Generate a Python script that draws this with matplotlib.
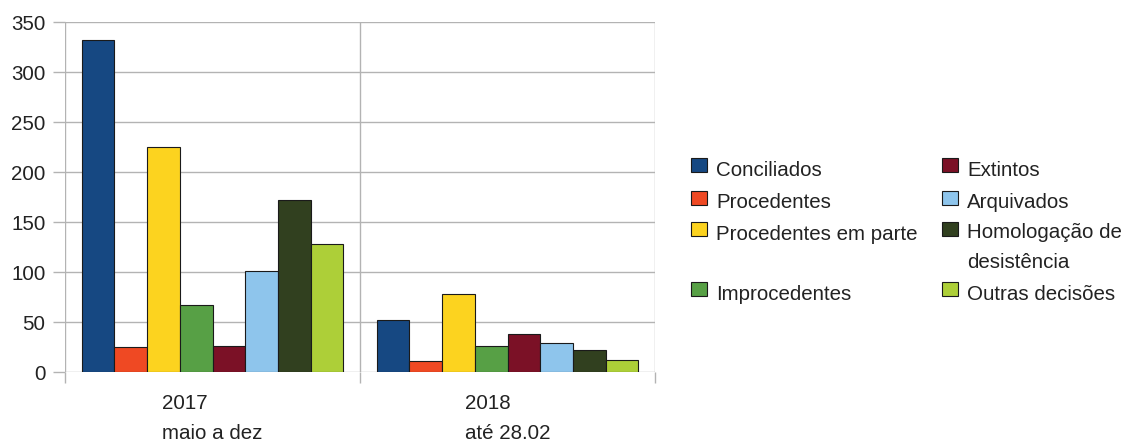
import numpy as np
import matplotlib
matplotlib.use("Agg")
import matplotlib.pyplot as plt
from matplotlib.patches import Rectangle

plt.rcParams['font.family'] = ['Liberation Sans', 'DejaVu Sans']

# data
groups = ["2017\nmaio a dez", "2018\naté 28.02"]
series = ["Conciliados", "Procedentes", "Procedentes em parte", "Improcedentes",
          "Extintos", "Arquivados", "Homologação de\ndesistência", "Outras decisões"]
values_2017 = [332, 25, 225, 67, 26, 101, 172, 128]
values_2018 = [52, 11, 78, 26, 38, 29, 22, 12]
colors = ["#164882", "#ef4923", "#fcd31f", "#57a045",
          "#7b1126", "#8ec5ec", "#31401f", "#adcf38"]

W, H = 1128, 442
fs = 14.8
grid_col = "#b3b3b3"

fig = plt.figure(figsize=(W / 100, H / 100), dpi=100)
ax = fig.add_axes([65 / W, 1 - 372 / H, 590 / W, 350 / H])

x = np.arange(len(groups))
gw = 0.888
bw = gw / len(series)
for i, name in enumerate(series):
    vals = [values_2017[i], values_2018[i]]
    ax.bar(x - gw / 2 + (i + 0.5) * bw, vals, bw, color=colors[i],
           edgecolor="#1a1a1a", linewidth=0.8, zorder=3)

ax.set_xlim(-0.5, len(groups) - 0.5)
ax.set_ylim(0, 350)
ax.set_yticks(np.arange(0, 351, 50))
ax.set_xticks(np.arange(len(groups) + 1) - 0.5)
ax.set_xticklabels([])
ax.set_xticks(x, minor=True)
ax.set_xticklabels(groups, minor=True, multialignment="left", linespacing=1.75)

ax.grid(True, which="major", color=grid_col, linewidth=1.0, zorder=0)
ax.set_axisbelow(True)
for s in ax.spines.values():
    s.set_visible(False)
ax.tick_params(axis="x", which="major", length=8, width=1.0, color=grid_col)
ax.tick_params(axis="x", which="minor", length=0, pad=16, labelsize=fs, labelcolor="#222222")
ax.tick_params(axis="y", length=9, width=1.0, color=grid_col, pad=5,
               labelsize=fs, labelcolor="#222222")

# legend laid out as a table of two columns
row_base = [175.7, 208.3, 240, 300]
line_step = 28
text_x = [716, 967]
mark_x = [691, 942]
for i, name in enumerate(series):
    col, row = i // 4, i % 4
    yb = row_base[row]
    nlines = name.count("\n") + 1
    fig.add_artist(Rectangle((mark_x[col] / W, 1 - (yb - 3.7) / H), 16 / W, 14 / H,
                             transform=fig.transFigure, facecolor=colors[i],
                             edgecolor="#1a1a1a", linewidth=0.8))
    # baseline alignment refers to the last line of the text
    fig.text(text_x[col] / W, 1 - (yb + line_step * (nlines - 1)) / H, name,
             fontsize=fs, va="baseline", ha="left", color="#222222", linespacing=1.7)

fig.savefig("out.png", dpi=100)
